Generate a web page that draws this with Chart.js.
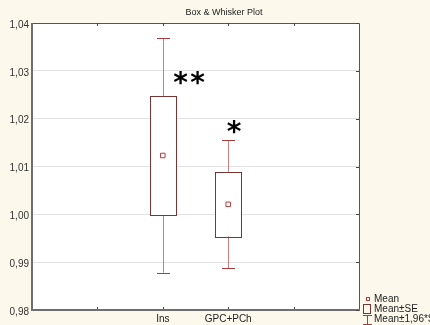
<!DOCTYPE html>
<html>
<head>
<meta charset="utf-8">
<script src="https://cdn.jsdelivr.net/npm/chart.js@4"></script>
<style>
  html, body { margin: 0; padding: 0; background: #fdf8ec; }
  #wrap { width: 430px; height: 325px; }
</style>
</head>
<body>
<div id="wrap"><canvas id="box-plot"></canvas></div>
<script>
// values
const categories = ['Ins', 'GPC+PCh'];
const means = [1.0123, 1.0021];
const seLow = [0.9998, 0.9954];
const seHigh = [1.0247, 1.0089];
const sdLow = [0.9878, 0.9887];
const sdHigh = [1.0369, 1.0155];
const stars = ['**', '*'];
const starValues = [1.0284, 1.0183];
const yTicks = [0.98, 0.99, 1.00, 1.01, 1.02, 1.03, 1.04];
const legendLabels = ['Mean', 'Mean±SE', 'Mean±1,96*SD'];

// two empty slots each side like in Statistica
const xLabels = ['', '', ...categories, '', ''];
const firstCat = 2;

const boxColor = '#7b3434';
const whiskerColor = '#c77f7f';
const capColor = '#a83c3c';
const meanColor = '#b0403f';

Chart.defaults.font.family = "'Liberation Sans', Arial, sans-serif";
Chart.defaults.color = '#333';

const fmt = (v) => v.toFixed(2).replace('.', ',');

// background, boxes and whiskers
const boxPlugin = {
    id: 'boxPlugin',
    beforeDraw(chart) {
        const { ctx, chartArea: a } = chart;
        ctx.save();
        ctx.fillStyle = '#fdf8ec';
        ctx.fillRect(0, 0, chart.width, chart.height);
        ctx.fillStyle = '#ffffff';
        ctx.fillRect(a.left, a.top, a.right - a.left, a.bottom - a.top);
        ctx.restore();
    },
    beforeDatasetsDraw(chart) {
        const { ctx, scales: { x, y } } = chart;
        ctx.save();
        categories.forEach((c, i) => {
            const cx = Math.round(x.getPixelForValue(i + firstCat)) + 0.5;
            const yTop = y.getPixelForValue(sdHigh[i]);
            const yBot = y.getPixelForValue(sdLow[i]);
            const b1 = y.getPixelForValue(seHigh[i]);
            const b2 = y.getPixelForValue(seLow[i]);

            ctx.lineWidth = 1;
            ctx.strokeStyle = whiskerColor;
            ctx.beginPath();
            ctx.moveTo(cx, yTop);
            ctx.lineTo(cx, yBot);
            ctx.stroke();

            ctx.strokeStyle = capColor;
            ctx.beginPath();
            ctx.moveTo(cx - 6.5, Math.round(yTop) + 0.5);
            ctx.lineTo(cx + 6.5, Math.round(yTop) + 0.5);
            ctx.moveTo(cx - 6.5, Math.round(yBot) + 0.5);
            ctx.lineTo(cx + 6.5, Math.round(yBot) + 0.5);
            ctx.stroke();

            ctx.fillStyle = '#ffffff';
            ctx.strokeStyle = boxColor;
            ctx.fillRect(cx - 13, b1, 26, b2 - b1);
            ctx.strokeRect(cx - 13, Math.round(b1) + 0.5, 26, Math.round(b2 - b1));
        });
        ctx.restore();
    },
    afterDraw(chart) {
        const { ctx, chartArea: a, scales: { x, y } } = chart;
        ctx.save();

        // frame
        ctx.strokeStyle = '#555';
        ctx.lineWidth = 1;
        ctx.beginPath();
        ctx.moveTo(a.left, a.top + 0.5);
        ctx.lineTo(a.right + 0.5, a.top + 0.5);
        ctx.lineTo(a.right + 0.5, a.bottom);
        ctx.stroke();
        ctx.strokeStyle = '#6e6e6e';
        ctx.lineWidth = 2;
        ctx.beginPath();
        ctx.moveTo(a.left, a.top);
        ctx.lineTo(a.left, a.bottom);
        ctx.lineTo(a.right + 1, a.bottom);
        ctx.stroke();

        // little tick marks
        ctx.lineWidth = 1;
        ctx.strokeStyle = '#444';
        ctx.beginPath();
        for (let i = 1; i < xLabels.length - 1; i++) {
            const px = Math.round(x.getPixelForValue(i)) + 0.5;
            ctx.moveTo(px, a.top);
            ctx.lineTo(px, a.top + 3);
            ctx.moveTo(px, a.bottom - 3);
            ctx.lineTo(px, a.bottom - 1);
        }
        yTicks.forEach(v => {
            const py = Math.round(y.getPixelForValue(v)) + 0.5;
            ctx.moveTo(a.right, py);
            ctx.lineTo(a.right - 3, py);
        });
        ctx.stroke();

        // stars
        ctx.fillStyle = '#000';
        ctx.font = "bold 28px 'DejaVu Sans'";
        categories.forEach((c, i) => {
            const cx = x.getPixelForValue(i + firstCat);
            const cy = y.getPixelForValue(starValues[i]);
            const chars = stars[i].split('');
            const startX = chars.length > 1 ? cx + 18 : cx + 6;
            chars.forEach((ch, k) => {
                const m = ctx.measureText(ch);
                const inkW = m.actualBoundingBoxLeft + m.actualBoundingBoxRight;
                const px = startX + k * 17 - inkW / 2 + m.actualBoundingBoxLeft;
                const py = cy + (m.actualBoundingBoxAscent - m.actualBoundingBoxDescent) / 2;
                ctx.fillText(ch, px, py);
            });
        });

        // title
        ctx.font = "9px 'Liberation Sans'";
        ctx.fillStyle = '#222';
        ctx.textAlign = 'center';
        ctx.textBaseline = 'alphabetic';
        ctx.fillText('Box & Whisker Plot', 224, 15);

        // legend
        const lx = a.right + 4;
        ctx.textAlign = 'left';
        ctx.textBaseline = 'middle';
        ctx.font = "10px 'Liberation Sans'";
        ctx.fillStyle = '#222';
        legendLabels.forEach((t, i) => {
            ctx.fillText(t, lx + 11, 299 + i * 10);
        });
        ctx.lineWidth = 1;
        ctx.strokeStyle = meanColor;
        ctx.strokeRect(lx + 3.5, 297.5, 3, 3);
        ctx.strokeStyle = boxColor;
        ctx.strokeRect(lx + 0.5, 304.5, 7, 9);
        ctx.strokeStyle = capColor;
        ctx.beginPath();
        ctx.moveTo(lx, 315.5);
        ctx.lineTo(lx + 9, 315.5);
        ctx.moveTo(lx + 4.5, 315.5);
        ctx.lineTo(lx + 4.5, 324.5);
        ctx.moveTo(lx, 324.5);
        ctx.lineTo(lx + 9, 324.5);
        ctx.stroke();

        ctx.restore();
    }
};

const meanData = xLabels.map((l, i) => {
    const k = i - firstCat;
    return k >= 0 && k < means.length ? means[k] : null;
});

const config = {
    type: 'line',
    data: {
        labels: xLabels,
        datasets: [{
            label: 'Mean',
            data: meanData,
            showLine: false,
            pointStyle: 'rect',
            pointRadius: 3.2,
            pointBorderWidth: 1,
            pointBackgroundColor: '#ffffff',
            pointBorderColor: meanColor
        }]
    },
    options: {
        responsive: true,
        maintainAspectRatio: false,
        animation: false,
        layout: {
            padding: { top: 23, right: 71, left: 0, bottom: 0 }
        },
        plugins: {
            legend: { display: false },
            title: { display: false },
            tooltip: { enabled: false }
        },
        scales: {
            x: {
                offset: false,
                grid: { display: false, drawTicks: false },
                border: { display: false },
                ticks: {
                    autoSkip: false,
                    maxRotation: 0,
                    padding: 3,
                    color: '#222',
                    font: { size: 10 }
                },
                afterFit: (scale) => { scale.height = 15; }
            },
            y: {
                min: 0.98,
                max: 1.04,
                grid: { color: '#e4e4e4', drawTicks: false },
                border: { display: false },
                afterBuildTicks: (scale) => {
                    scale.ticks = yTicks.map(v => ({ value: v }));
                },
                ticks: {
                    padding: 3,
                    labelOffset: 2,
                    color: '#333',
                    font: { size: 10 },
                    callback: (value) => fmt(value)
                },
                afterFit: (scale) => { scale.width = 32; }
            }
        }
    },
    plugins: [boxPlugin]
};

document.addEventListener('DOMContentLoaded', () => {
    new Chart(document.getElementById('box-plot'), config);
});
</script>
</body>
</html>
